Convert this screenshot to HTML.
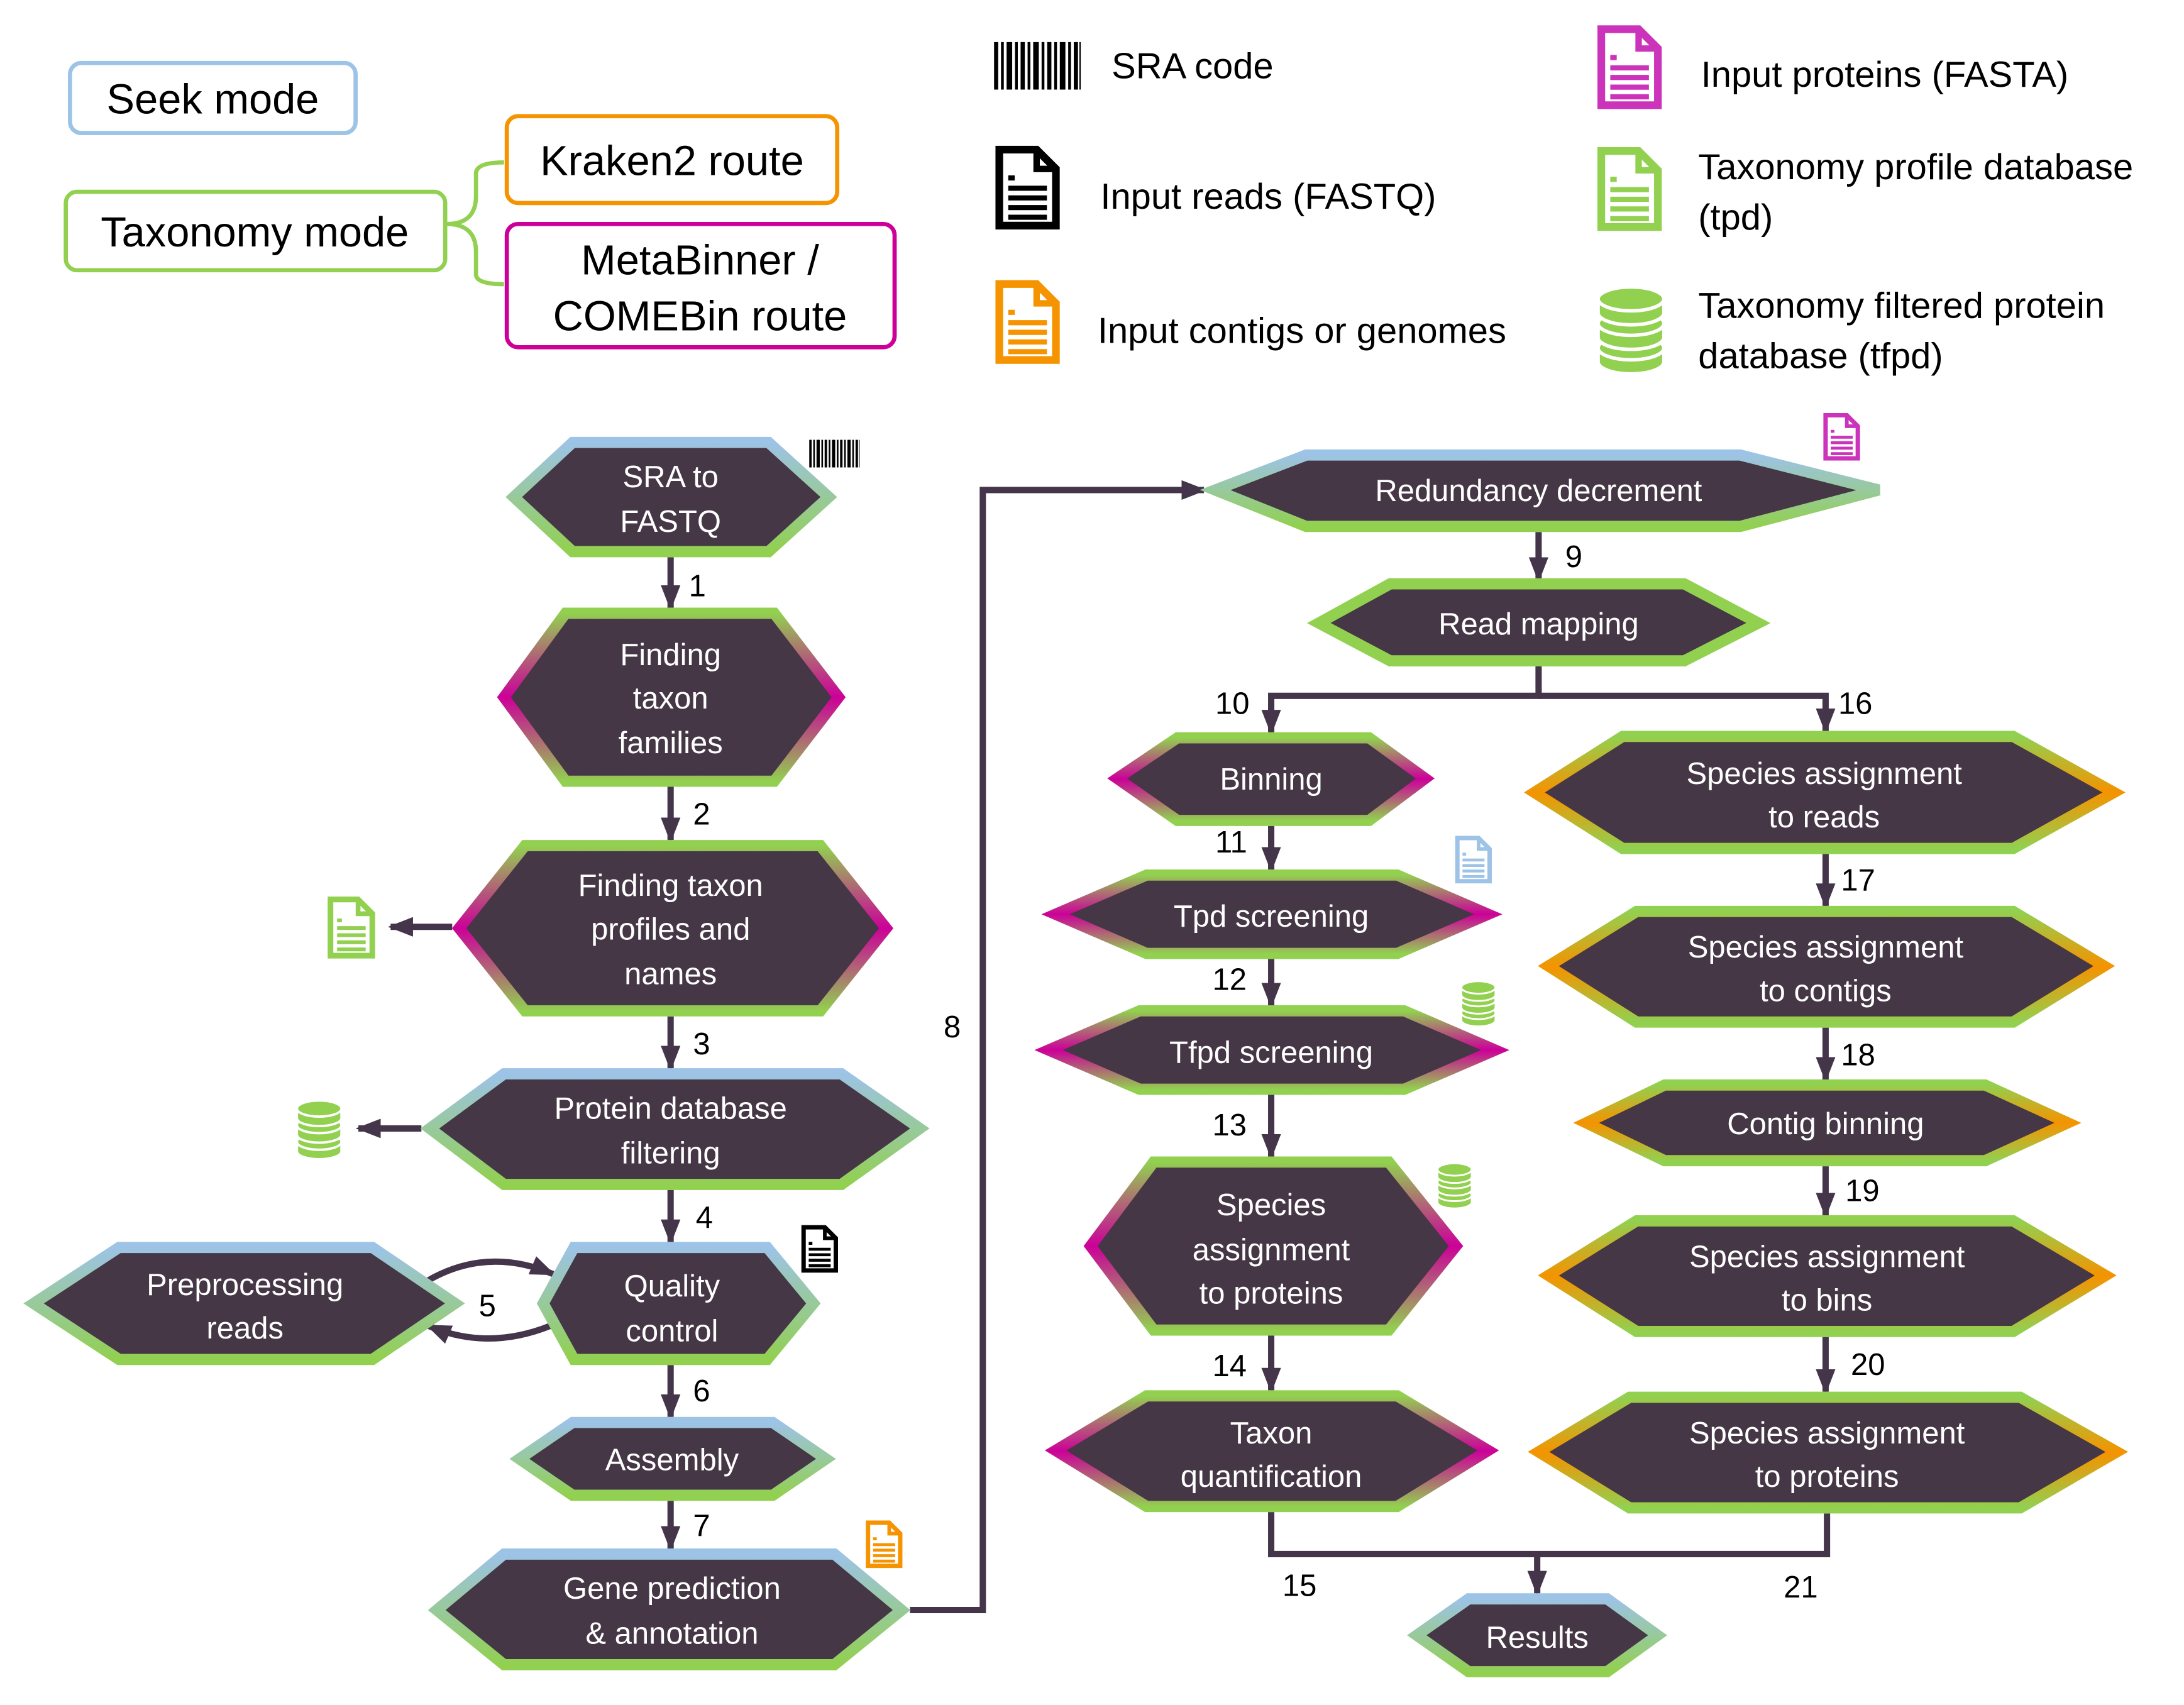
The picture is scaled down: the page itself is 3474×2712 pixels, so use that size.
<!DOCTYPE html>
<html><head><meta charset="utf-8"><style>html,body{margin:0;padding:0;background:#fff}svg{display:block}</style></head>
<body>
<svg xmlns="http://www.w3.org/2000/svg" width="3474" height="2712" viewBox="2 0 1560 1217.8" preserveAspectRatio="none" font-family="'Liberation Sans', sans-serif">
<defs>
<linearGradient id="gB" x1="0" y1="0" x2="0" y2="1"><stop offset="0" stop-color="#9dc3e6"/><stop offset="1" stop-color="#92d050"/></linearGradient>
<linearGradient id="gM" x1="0" y1="0" x2="0" y2="1"><stop offset="0" stop-color="#92d050"/><stop offset="0.5" stop-color="#cc0099"/><stop offset="1" stop-color="#92d050"/></linearGradient>
<linearGradient id="gO" x1="0" y1="0" x2="0" y2="1"><stop offset="0" stop-color="#92d050"/><stop offset="0.5" stop-color="#f59300"/><stop offset="1" stop-color="#92d050"/></linearGradient>
<marker id="ar" markerWidth="18" markerHeight="14" refX="16" refY="7" orient="auto" markerUnits="userSpaceOnUse"><path d="M0,0 L18,7 L0,14 Z" fill="#45354a"/></marker>
<symbol id="doc" viewBox="0 0 10 13"><path d="M0.6,0.6 H6.4 L9.4,3.6 V12.4 H0.6 Z" fill="#fff" stroke="currentColor" stroke-width="1.2"/><path d="M6.4,0.6 V3.6 H9.4" fill="none" stroke="currentColor" stroke-width="1"/><g stroke="currentColor" stroke-width="0.8"><line x1="2" y1="5" x2="3" y2="5"/><line x1="2" y1="6.6" x2="8" y2="6.6"/><line x1="2" y1="8.1" x2="8" y2="8.1"/><line x1="2" y1="9.6" x2="8" y2="9.6"/><line x1="2" y1="11.1" x2="8" y2="11.1"/></g></symbol>
<symbol id="db" viewBox="0 0 10 13"><g fill="#92d050" stroke="#fff" stroke-width="0.5"><path d="M0.3,9 V11 A4.7,1.7 0 0 0 9.7,11 V9 Z"/><ellipse cx="5" cy="9" rx="4.7" ry="1.7"/><path d="M0.3,5.5 V7.5 A4.7,1.7 0 0 0 9.7,7.5 V5.5 Z"/><ellipse cx="5" cy="5.5" rx="4.7" ry="1.7"/><path d="M0.3,2 V4 A4.7,1.7 0 0 0 9.7,4 V2 Z"/><ellipse cx="5" cy="2" rx="4.7" ry="1.7"/></g></symbol>
<symbol id="bar" viewBox="0 0 62 34"><g fill="#000"><rect x="0" y="0" width="3" height="34"/><rect x="5" y="0" width="2" height="34"/><rect x="9" y="0" width="4" height="34"/><rect x="15" y="0" width="2" height="34"/><rect x="19" y="0" width="3" height="34"/><rect x="24" y="0" width="2" height="34"/><rect x="28" y="0" width="4" height="34"/><rect x="34" y="0" width="2" height="34"/><rect x="38" y="0" width="3" height="34"/><rect x="43" y="0" width="2" height="34"/><rect x="47" y="0" width="4" height="34"/><rect x="53" y="0" width="2" height="34"/><rect x="57" y="0" width="3" height="34"/><rect x="61" y="0" width="1" height="34"/></g></symbol>
</defs>

<!-- Legend -->
<g fill="#fff" stroke-width="3">
<rect x="52" y="45" width="204" height="50" rx="8" stroke="#9dc3e6"/>
<rect x="49" y="137" width="271" height="56" rx="8" stroke="#92d050"/>
<rect x="364" y="83" width="236" height="62" rx="8" stroke="#f59300"/>
<rect x="364" y="160" width="277" height="88" rx="8" stroke="#cc0099"/>
</g>
<path d="M321,160 Q342,160 342,140 V124 Q342,116 362,116 M321,160 Q342,160 342,180 V196 Q342,203 362,203" fill="none" stroke="#92d050" stroke-width="3"/>
<g font-size="30" fill="#000" text-anchor="middle">
<text x="154" y="81">Seek mode</text>
<text x="184" y="176">Taxonomy mode</text>
<text x="482" y="125">Kraken2 route</text>
<text x="502" y="196">MetaBinner /</text>
<text x="502" y="236">COMEBin route</text>
</g>
<use href="#bar" x="712" y="30" width="62" height="34"/>
<use href="#doc" x="713" y="104" width="46" height="60" color="#000" preserveAspectRatio="none"/>
<use href="#doc" x="713" y="200" width="46" height="60" color="#f59300" preserveAspectRatio="none"/>
<use href="#doc" x="1143" y="18" width="46" height="60" color="#cc33bb" preserveAspectRatio="none"/>
<use href="#doc" x="1143" y="105" width="46" height="60" color="#92d050" preserveAspectRatio="none"/>
<use href="#db" x="1142" y="202" width="50" height="68" preserveAspectRatio="none"/>
<g font-size="26" fill="#000">
<text x="796" y="56">SRA code</text>
<text x="788" y="149">Input reads (FASTQ)</text>
<text x="786" y="245">Input contigs or genomes</text>
<text x="1217" y="62">Input proteins (FASTA)</text>
<text x="1215" y="128">Taxonomy profile database</text>
<text x="1215" y="164">(tpd)</text>
<text x="1215" y="227">Taxonomy filtered protein</text>
<text x="1215" y="263">database (tfpd)</text>
</g>

<!-- small icons -->
<use href="#bar" x="580" y="314" width="36" height="20"/>
<use href="#doc" x="1304" y="295" width="27" height="34" color="#cc33bb" preserveAspectRatio="none"/>
<use href="#doc" x="236" y="640" width="34" height="45" color="#92d050" preserveAspectRatio="none"/>
<use href="#db" x="213" y="785" width="34" height="44" preserveAspectRatio="none"/>
<use href="#doc" x="574" y="875" width="27" height="34" color="#000" preserveAspectRatio="none"/>
<use href="#doc" x="620" y="1086" width="27" height="34" color="#f59300" preserveAspectRatio="none"/>
<use href="#doc" x="1041" y="597" width="27" height="34" color="#9dc3e6" preserveAspectRatio="none"/>
<use href="#db" x="1045" y="700" width="26" height="34" preserveAspectRatio="none"/>
<use href="#db" x="1028" y="830" width="26" height="34" preserveAspectRatio="none"/>

<!-- connectors -->
<g fill="none" stroke="#45354a" stroke-width="4.5">
<path d="M481,398 V434" marker-end="url(#ar)"/>
<path d="M481,562 V600" marker-end="url(#ar)"/>
<path d="M481,726 V763" marker-end="url(#ar)"/>
<path d="M481,850 V887" marker-end="url(#ar)"/>
<path d="M481,975 V1012" marker-end="url(#ar)"/>
<path d="M481,1072 V1106" marker-end="url(#ar)"/>
<path d="M325,662 H281" marker-end="url(#ar)"/>
<path d="M303,806 H258" marker-end="url(#ar)"/>
<path d="M307,915 Q350,890 397,910" marker-end="url(#ar)"/>
<path d="M395,947 Q350,965 308,947" marker-end="url(#ar)"/>
<path d="M652,1150 H704 V350 H862" marker-end="url(#ar)"/>
<path d="M1101,380 V414" marker-end="url(#ar)"/>
<path d="M1101,476 V497 H910 V523" marker-end="url(#ar)"/>
<path d="M1101,497 H1306 V522" marker-end="url(#ar)"/>
<path d="M910,590 V621" marker-end="url(#ar)"/>
<path d="M910,685 V718" marker-end="url(#ar)"/>
<path d="M910,782 V826" marker-end="url(#ar)"/>
<path d="M910,954 V993" marker-end="url(#ar)"/>
<path d="M1306,610 V647" marker-end="url(#ar)"/>
<path d="M1306,734 V771" marker-end="url(#ar)"/>
<path d="M1306,833 V868" marker-end="url(#ar)"/>
<path d="M1306,955 V994" marker-end="url(#ar)"/>
<path d="M910,1080 V1110 H1307 V1081"/>
<path d="M1100,1110 V1138" marker-end="url(#ar)"/>
</g>
<g font-size="22" fill="#000">
<text x="494" y="426">1</text><text x="497" y="589">2</text><text x="497" y="753">3</text><text x="499" y="877">4</text>
<text x="344" y="940">5</text><text x="497" y="1001">6</text><text x="497" y="1097">7</text><text x="676" y="741">8</text>
<text x="1120" y="405">9</text><text x="870" y="510">10</text><text x="870" y="609">11</text><text x="868" y="707">12</text>
<text x="868" y="811">13</text><text x="868" y="983">14</text><text x="918" y="1140">15</text>
<text x="1315" y="510">16</text><text x="1317" y="636">17</text><text x="1317" y="761">18</text><text x="1320" y="858">19</text>
<text x="1324" y="982">20</text><text x="1276" y="1141">21</text>
</g>

<!-- nodes -->
<g fill="#453745" stroke-width="8" stroke-linejoin="miter">
<polygon points="369,355 411,316 551,316 594,355 551,394 411,394" stroke="url(#gB)"/>
<polygon points="362,498 406,438 555,438 601,498 555,558 406,558" stroke="url(#gM)"/>
<polygon points="330,663 377,604 588,604 635,663 588,722 377,722" stroke="url(#gM)"/>
<polygon points="309,806 362,767 603,767 659,806 603,846 362,846" stroke="url(#gB)"/>
<polygon points="390,931 412,891 550,891 583,931 550,971 412,971" stroke="url(#gB)"/>
<polygon points="26,931 87,891 268,891 327,931 268,971 87,971" stroke="url(#gB)"/>
<polygon points="373,1042 411,1016 554,1016 592,1042 554,1068 411,1068" stroke="url(#gB)"/>
<polygon points="314,1150 362,1110 598,1110 646,1150 598,1189 362,1189" stroke="url(#gB)"/>
<polygon points="870,350 935,325 1245,325 1344,350 1245,376 935,376" stroke="url(#gB)"/>
<polygon points="944,445 995,417 1205,417 1258,445 1205,472 995,472" stroke="#92d050"/>
<polygon points="800,556 843,527 980,527 1020,556 980,586 843,586" stroke="url(#gM)"/>
<polygon points="756,653 821,625 1000,625 1065,653 1000,681 821,681" stroke="url(#gM)"/>
<polygon points="751,750 816,722 1005,722 1070,750 1005,778 816,778" stroke="url(#gM)"/>
<polygon points="781,890 826,830 994,830 1042,890 994,950 826,950" stroke="url(#gM)"/>
<polygon points="756,1036 821,997 1000,997 1065,1036 1000,1076 821,1076" stroke="url(#gM)"/>
<polygon points="1098,566 1161,526 1440,526 1512,566 1440,606 1161,606" stroke="url(#gO)"/>
<polygon points="1108,690 1171,651 1440,651 1505,690 1440,730 1171,730" stroke="url(#gO)"/>
<polygon points="1135,802 1191,775 1420,775 1479,802 1420,829 1191,829" stroke="url(#gO)"/>
<polygon points="1108,911 1171,872 1440,872 1506,911 1440,951 1171,951" stroke="url(#gO)"/>
<polygon points="1101,1037 1166,998 1445,998 1514,1037 1445,1077 1166,1077" stroke="url(#gO)"/>
<polygon points="1014,1168 1051,1142 1150,1142 1186,1168 1150,1194 1051,1194" stroke="url(#gB)"/>
</g>
<g font-size="22" fill="#fff" text-anchor="middle">
<text x="481" y="348">SRA to</text><text x="481" y="380">FASTQ</text>
<text x="481" y="475">Finding</text><text x="481" y="506">taxon</text><text x="481" y="538">families</text>
<text x="481" y="640">Finding taxon</text><text x="481" y="671">profiles and</text><text x="481" y="703">names</text>
<text x="481" y="799">Protein database</text><text x="481" y="831">filtering</text>
<text x="482" y="926">Quality</text><text x="482" y="958">control</text>
<text x="177" y="925">Preprocessing</text><text x="177" y="956">reads</text>
<text x="482" y="1050">Assembly</text>
<text x="482" y="1142">Gene prediction</text><text x="482" y="1174">&amp; annotation</text>
<text x="1101" y="358">Redundancy decrement</text>
<text x="1101" y="453">Read mapping</text>
<text x="910" y="564">Binning</text>
<text x="910" y="662">Tpd screening</text>
<text x="910" y="759">Tfpd screening</text>
<text x="910" y="868">Species</text><text x="910" y="900">assignment</text><text x="910" y="931">to proteins</text>
<text x="910" y="1031">Taxon</text><text x="910" y="1062">quantification</text>
<text x="1305" y="560">Species assignment</text><text x="1305" y="591">to reads</text>
<text x="1306" y="684">Species assignment</text><text x="1306" y="715">to contigs</text>
<text x="1306" y="810">Contig binning</text>
<text x="1307" y="905">Species assignment</text><text x="1307" y="936">to bins</text>
<text x="1307" y="1031">Species assignment</text><text x="1307" y="1062">to proteins</text>
<text x="1100" y="1177">Results</text>
</g>
</svg>
</body></html>
